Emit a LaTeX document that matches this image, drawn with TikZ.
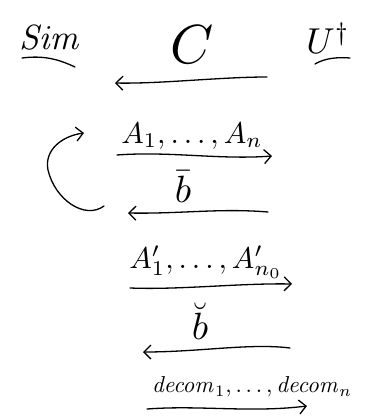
\documentclass[tikz,border=0pt]{standalone}
\usetikzlibrary{arrows.meta}
\begin{document}
\begin{tikzpicture}[x=1pt,y=-1pt,
  ink/.style={line width=1.3pt,line cap=round,line join=round,black},
  arr/.style={ink,-{Straight Barb[length=7pt,width=14pt]}},
  lbl/.style={inner sep=0pt,anchor=center}]
\useasboundingbox (0,0) rectangle (373,417);
% top row
\node[lbl,scale=3.5] (sim) at (50,38) {$\mathit{Sim}$};
\node[lbl,scale=5.5] (c) at (192,45) {$C$};
\node[lbl,scale=3.6] (u) at (328,38) {$U^{\dagger}$};
\draw[ink] (22,58) .. controls (45,55) and (60,60) .. (75,67);
\draw[ink] (315,64) .. controls (325,58) and (338,57) .. (350,58);
\coordinate (c1) at (267,77);
\coordinate (c2) at (115,83);
\draw[arr] (c1) .. controls (220,77) and (160,84) .. (c2);
% A row
\node[lbl,scale=3.0] (a) at (192,136) {$A_1,\ldots,A_n$};
\coordinate (a1) at (117,155);
\coordinate (a2) at (272,156);
\draw[arr] (a1) .. controls (170,151) and (220,160) .. (a2);
% loop
\coordinate (l1) at (104,206);
\coordinate (l2) at (84,133);
\draw[arr] (l1) .. controls (85,220) and (55,200) .. (48,170)
  .. controls (44,150) and (62,136) .. (l2);
% b bar
\node[lbl,scale=3.8] (b1) at (183,187) {$\bar{b}$};
\coordinate (b1r) at (268,212);
\coordinate (b1l) at (128,213);
\draw[arr] (b1r) .. controls (220,208) and (180,214) .. (b1l);
% A' row
\node[lbl,scale=3.0] (ap) at (206,262) {$A_1',\ldots,A_{n_0}'$};
\coordinate (ap1) at (130,288);
\coordinate (ap2) at (292,284);
\draw[arr] (ap1) .. controls (180,290) and (240,283) .. (ap2);
% b breve
\node[lbl,scale=3.8] (b2) at (200,321) {$\breve{b}$};
\coordinate (b2r) at (290,348);
\coordinate (b2l) at (143,352);
\draw[arr] (b2r) .. controls (250,343) and (200,352) .. (b2l);
% decom row
\node[lbl,scale=2.3] (d) at (252,387) {$\mathit{decom}_1,\ldots,\mathit{decom}_n$};
\coordinate (d1) at (147,409);
\coordinate (d2) at (307,406);
\draw[arr] (d1) .. controls (200,405) and (250,413) .. (d2);
\end{tikzpicture}
\end{document}
